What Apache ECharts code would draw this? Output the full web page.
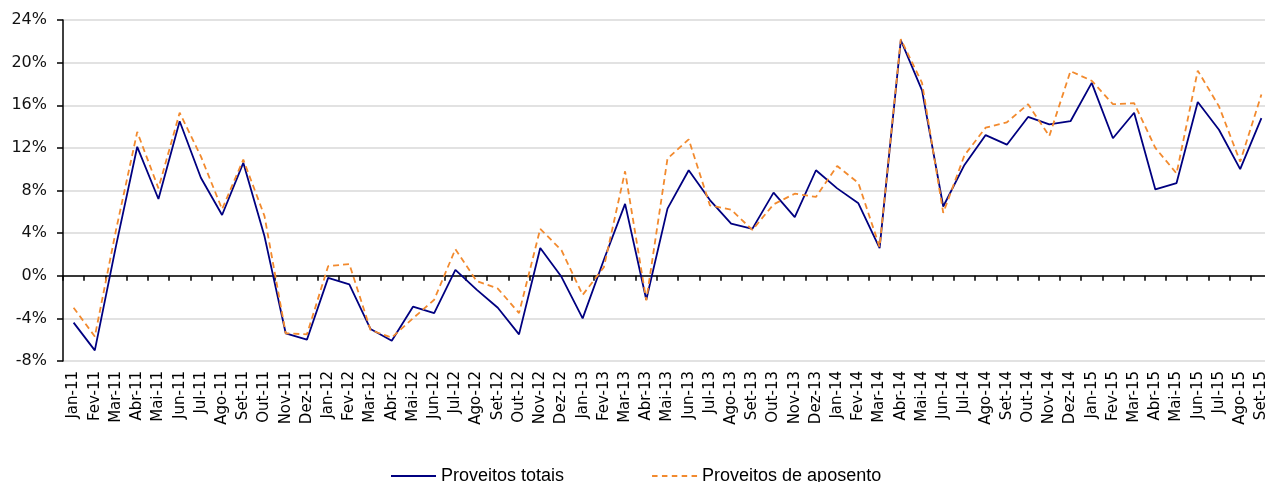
<!DOCTYPE html>
<html>
<head>
<meta charset="utf-8">
<script src="https://cdn.jsdelivr.net/npm/echarts@6/dist/echarts.min.js"></script>
<style>
  html, body { margin: 0; padding: 0; background: #ffffff; }
  #chart { width: 1265px; height: 482px; }
</style>
</head>
<body>
<div id="chart"></div>
<script>
// Monthly categories, Jan-11 .. Set-15
const months = [
  'Jan-11','Fev-11','Mar-11','Abr-11','Mai-11','Jun-11','Jul-11','Ago-11','Set-11','Out-11','Nov-11','Dez-11',
  'Jan-12','Fev-12','Mar-12','Abr-12','Mai-12','Jun-12','Jul-12','Ago-12','Set-12','Out-12','Nov-12','Dez-12',
  'Jan-13','Fev-13','Mar-13','Abr-13','Mai-13','Jun-13','Jul-13','Ago-13','Set-13','Out-13','Nov-13','Dez-13',
  'Jan-14','Fev-14','Mar-14','Abr-14','Mai-14','Jun-14','Jul-14','Ago-14','Set-14','Out-14','Nov-14','Dez-14',
  'Jan-15','Fev-15','Mar-15','Abr-15','Mai-15','Jun-15','Jul-15','Ago-15','Set-15'
];

// Year-on-year change, %
const proveitosTotais = [
  -4.4, -7.0, 2.8, 12.1, 7.2, 14.5, 9.2, 5.7, 10.6, 3.7, -5.4, -6.0,
  -0.2, -0.8, -5.0, -6.1, -2.9, -3.5, 0.55, -1.3, -3.0, -5.5, 2.6, -0.1,
  -4.0, 1.5, 6.75, -2.25, 6.3, 9.9, 7.1, 4.9, 4.4, 7.8, 5.5, 9.9,
  8.2, 6.8, 2.6, 22.1, 17.4, 6.5, 10.4, 13.2, 12.3, 14.9, 14.2, 14.5,
  18.1, 12.9, 15.3, 8.1, 8.7, 16.3, 13.7, 10.0, 14.8
];

const proveitosAposento = [
  -3.0, -5.7, 4.3, 13.5, 8.2, 15.3, 11.2, 6.25, 10.9, 5.6, -5.4, -5.5,
  0.9, 1.1, -5.1, -5.8, -4.0, -2.25, 2.5, -0.5, -1.2, -3.5, 4.4, 2.4,
  -1.8, 0.8, 9.8, -2.3, 11.0, 12.8, 6.6, 6.2, 4.3, 6.7, 7.7, 7.4,
  10.3, 8.7, 2.7, 22.2, 18.1, 5.9, 11.3, 13.9, 14.4, 16.1, 13.1, 19.2,
  18.3, 16.1, 16.2, 12.0, 9.6, 19.25, 15.9, 10.7, 17.0
];

const seriesNames = ['Proveitos totais', 'Proveitos de aposento'];
const yTicks = { min: -8, max: 24, step: 4 };

const chart = echarts.init(document.getElementById('chart'), null, { renderer: 'canvas' });

chart.setOption({
  animation: false,
  backgroundColor: '#ffffff',
  grid: {
    left: 63, top: 20, width: 1209, height: 341,
    containLabel: false,
    outerBoundsMode: 'none'
  },
  legend: {
    left: 386,
    top: 462,
    itemWidth: 45,
    itemHeight: 14,
    itemGap: 88,
    textStyle: { fontFamily: 'Liberation Sans', fontSize: 18, color: '#000000' },
    data: [
      { name: seriesNames[0], icon: 'path://M0,0 L45,0 L45,2 L0,2 Z' },
      { name: seriesNames[1], icon: 'path://M0,0 L5,0 L5,2 L0,2 Z M9,0 L14,0 L14,2 L9,2 Z M18,0 L23,0 L23,2 L18,2 Z M27,0 L32,0 L32,2 L27,2 Z M36,0 L41,0 L41,2 L36,2 Z' }
    ]
  },
  xAxis: [
    {
      // category labels along the bottom edge
      type: 'category',
      data: months,
      position: 'bottom',
      boundaryGap: true,
      axisLine: { show: false, onZero: false },
      axisTick: { show: false },
      splitLine: { show: false },
      axisLabel: {
        interval: 0,
        rotate: 90,
        margin: 10,
        fontFamily: 'DejaVu Sans',
        fontSize: 15,
        color: '#000000'
      }
    },
    {
      // zero line with month ticks
      type: 'category',
      data: months,
      position: 'top',
      boundaryGap: true,
      axisLine: { show: true, onZero: true, lineStyle: { color: '#000000', width: 1.5 } },
      axisTick: { show: true, inside: true, length: 5, interval: 0, lineStyle: { color: '#000000', width: 1.5 } },
      axisLabel: { show: false },
      splitLine: { show: false }
    }
  ],
  yAxis: {
    type: 'value',
    min: yTicks.min,
    max: yTicks.max,
    interval: yTicks.step,
    axisLine: { show: true, onZero: false, lineStyle: { color: '#000000', width: 1.5 } },
    axisTick: { show: true, length: 6, lineStyle: { color: '#000000', width: 1.5 } },
    splitLine: { show: true, lineStyle: { color: '#d9d9d9', width: 1.5 } },
    axisLabel: {
      margin: 16,
      fontFamily: 'DejaVu Sans',
      fontSize: 16,
      color: '#111111',
      formatter: v => v + '%'
    }
  },
  series: [
    {
      name: seriesNames[0],
      type: 'line',
      xAxisIndex: 0,
      data: proveitosTotais,
      symbol: 'none',
      color: '#000080',
      lineStyle: { color: '#000080', width: 1.8 },
      z: 3
    },
    {
      name: seriesNames[1],
      type: 'line',
      xAxisIndex: 0,
      data: proveitosAposento,
      symbol: 'none',
      color: '#f28a2e',
      lineStyle: { color: '#f28a2e', width: 1.8, type: [6, 4] },
      z: 4
    }
  ]
});
</script>
</body>
</html>
